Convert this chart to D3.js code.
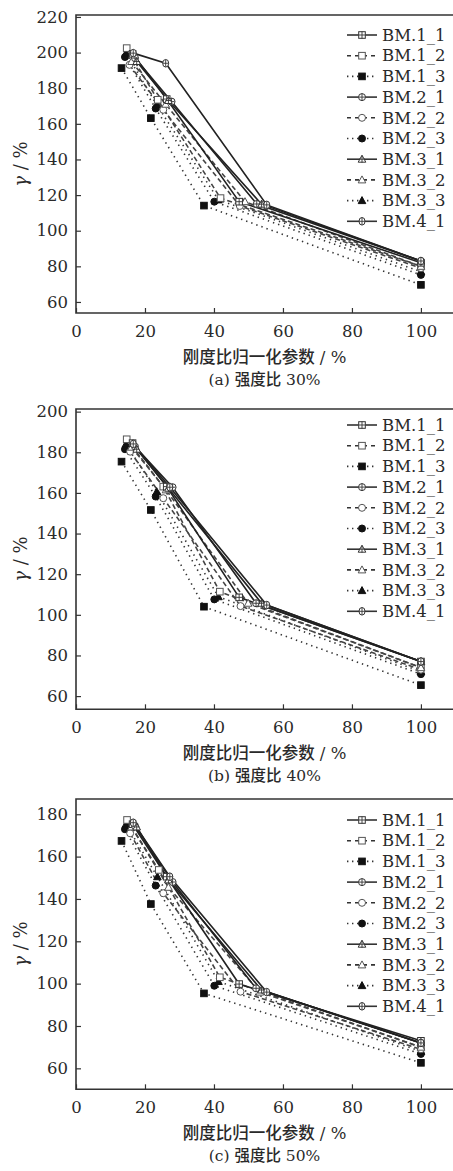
<!DOCTYPE html>
<html>
<head>
  <meta charset="utf8" />
  <style>
    body { margin: 0; background: #fff; }
    text { font-family: "DejaVu Serif", "Noto Sans CJK SC", serif; fill: #2a2a2a; }
  </style>
</head>
<body>
  <script src="https://d3js.org/d3.v7.min.js"></script>
  <script>
    var width = 453, height = 1171;

    // series names, in legend order
    var names = ["BM.1_1", "BM.1_2", "BM.1_3", "BM.2_1", "BM.2_2", "BM.2_3", "BM.3_1", "BM.3_2", "BM.3_3", "BM.4_1"];

    // panel (a) strength ratio 30%
    var xA = [[16.4, 26.3, 47.3, 100], [14.7, 23.7, 41.9, 100], [13.2, 21.7, 37.1, 100], [17.1, 27.7, 52.4, 100], [15.5, 25.3, 47.5, 100],
              [14.2, 23.1, 40.1, 100], [17.6, 26.8, 53.8, 100], [16.1, 26.0, 49.0, 100], [14.5, 23.4, 41.3, 100], [16.6, 26.0, 55.3, 100]];
    var yA = [[199.3, 173.9, 116.3, 82], [202.5, 173.5, 118.3, 80], [191.3, 163.2, 114.1, 69.6], [196.9, 172.5, 115, 83], [193.1, 167.9, 113.9, 79],
              [197.5, 168.6, 116.3, 75.2], [195, 173.1, 114.9, 83], [195, 171, 116.3, 80], [199.7, 170.7, 117.3, 77], [199.7, 194, 114.5, 83]];

    // panel (b) strength ratio 40%
    var xB = [[16.4, 26.3, 47.3, 100], [14.7, 25.3, 41.7, 100], [13.2, 21.7, 37.1, 100], [17.1, 28.0, 52.2, 100], [15.7, 25.3, 47.7, 100],
              [14.2, 23.1, 40.1, 100], [17.6, 26.8, 53.8, 100], [16.1, 26.1, 49.9, 100], [14.5, 23.4, 41.3, 100], [16.6, 27.2, 55.3, 100]];
    var yB = [[184.5, 163.1, 108.6, 77], [186.4, 163.1, 111.4, 74], [175.4, 151.6, 104, 65.4], [182.8, 162.8, 105.7, 77], [180.3, 157.4, 104.3, 73],
              [181.5, 158.2, 107.6, 70.8], [181.5, 162.3, 105.7, 77], [182.5, 161.5, 105.7, 74], [184.1, 160.6, 108.9, 72], [184.1, 162.8, 104.8, 77]];

    // panel (c) strength ratio 50%
    var xC = [[16.4, 26.3, 47.3, 100], [14.8, 24.0, 41.7, 100], [13.2, 21.7, 37.1, 100], [17.1, 28.0, 52.2, 100], [15.7, 25.3, 47.7, 100],
              [14.2, 23.1, 40.1, 100], [17.6, 26.8, 53.8, 100], [16.1, 26.8, 53.3, 100], [14.5, 23.6, 41.3, 100], [16.6, 27.2, 55.3, 100]];
    var yC = [[175.3, 150.5, 99.8, 73], [177.3, 153.7, 103, 70], [167.4, 137.6, 95.4, 62.6], [174.5, 148, 97.8, 72], [171, 142.7, 96.2, 69],
              [172.9, 146.3, 99, 66.8], [174, 149, 97, 72], [174, 145.5, 96, 70], [175.3, 150.5, 101, 68], [176, 150.5, 96, 72]];

    var xTicks = [0, 20, 40, 60, 80, 100];
    var yTicksA = [60, 80, 100, 120, 140, 160, 180, 200, 220];
    var yTicksB = [60, 80, 100, 120, 140, 160, 180, 200];
    var yTicksC = [60, 80, 100, 120, 140, 160, 180];
    var captionTags = ["(a)", "(b)", "(c)"];
    var captionValues = ["30%", "40%", "50%"];

    var svg = d3.select("body").append("svg").attr("width", width).attr("height", height);
    svg.append("rect").attr("width", width).attr("height", height).attr("fill", "#fff");

    // style per series: marker shape, filled, line kind
    function styleOf(i) {
      var n = names[i];
      var kind = n.slice(-1); // 1 solid, 2 dashed, 3 dotted
      var shape = n[3] === "1" ? "square" : n[3] === "2" ? "circle" : n[3] === "3" ? "triangle" : "oval";
      return { kind: kind, shape: shape };
    }

    function dash(kind) {
      return kind === "1" ? null : kind === "2" ? "5,3" : "1.4,4";
    }

    function drawMarker(g, x, y, st) {
      var filled = st.kind === "3";
      var fill = filled ? "#111" : "#fff";
      var stroke = st.kind === "1" ? "#333" : filled ? "#111" : "#555";
      var m;
      if (st.shape === "square") {
        m = g.append("rect").attr("x", x - 3.3).attr("y", y - 3.3).attr("width", 6.6).attr("height", 6.6);
      } else if (st.shape === "circle") {
        m = g.append("circle").attr("cx", x).attr("cy", y).attr("r", 3.5);
      } else if (st.shape === "triangle") {
        m = g.append("path").attr("d", "M" + x + "," + (y - 4) + "L" + (x + 3.8) + "," + (y + 3) + "L" + (x - 3.8) + "," + (y + 3) + "Z");
      } else {
        m = g.append("ellipse").attr("cx", x).attr("cy", y).attr("rx", 3).attr("ry", 3.8);
      }
      m.attr("fill", fill).attr("stroke", stroke).attr("stroke-width", 1);
      if (st.kind === "1") {
        g.append("line").attr("x1", x - 3).attr("x2", x + 3).attr("y1", y).attr("y2", y).attr("stroke", stroke).attr("stroke-width", 0.9);
        g.append("line").attr("x1", x).attr("x2", x).attr("y1", y - 3.5).attr("y2", y + 3.5).attr("stroke", stroke).attr("stroke-width", 0.9);
      }
    }

    function drawPanel(top, bottom, yDomain, yTicks, xs, ys, tag, value, legendTop) {
      var left = 76, right = 453;
      var x = d3.scaleLinear().domain([0, 109.3]).range([left, right]);
      var y = d3.scaleLinear().domain(yDomain).range([bottom, top]);
      var g = svg.append("g");

      // axes with inward ticks
      var xAxis = g.append("g").attr("transform", "translate(0," + bottom + ")")
        .call(d3.axisBottom(x).tickValues(xTicks).tickSizeInner(-5).tickSizeOuter(0).tickPadding(12));
      var yAxis = g.append("g").attr("transform", "translate(" + left + ",0)")
        .call(d3.axisLeft(y).tickValues(yTicks).tickSizeInner(-5).tickSizeOuter(0).tickPadding(8));
      [xAxis, yAxis].forEach(function (a) {
        a.select(".domain").remove();
        a.selectAll("line").attr("stroke", "#333").attr("stroke-width", 1.2);
        a.selectAll("text").attr("font-family", "DejaVu Serif").attr("font-size", 16.5).attr("fill", "#333");
      });
      xAxis.selectAll("text").attr("dy", "0.71em").attr("y", 12);

      // frame: left, bottom, top
      g.append("path")
        .attr("d", "M" + right + "," + top + "H" + left + "V" + bottom + "H" + right)
        .attr("fill", "none").attr("stroke", "#333").attr("stroke-width", 1.6);

      var line = d3.line().x(function (d) { return x(d[0]); }).y(function (d) { return y(d[1]); });

      // draw dotted first, then dashed, then solid on top
      var order = [2, 5, 8, 1, 4, 7, 0, 3, 6, 9];
      order.forEach(function (i) {
        var st = styleOf(i);
        var pts = xs[i].map(function (v, k) { return [v, ys[i][k]]; });
        g.append("path").attr("d", line(pts)).attr("fill", "none")
          .attr("stroke", st.kind === "1" ? "#222" : st.kind === "2" ? "#444" : "#333")
          .attr("stroke-width", 1.6)
          .attr("stroke-dasharray", dash(st.kind));
      });
      order.forEach(function (i) {
        var st = styleOf(i);
        xs[i].forEach(function (v, k) { drawMarker(g, x(v), y(ys[i][k]), st); });
      });

      // legend
      names.forEach(function (n, i) {
        var st = styleOf(i);
        var ly = legendTop + i * 20.7;
        g.append("line").attr("x1", 347).attr("x2", 377).attr("y1", ly).attr("y2", ly)
          .attr("stroke", "#333").attr("stroke-width", 1.6)
          .attr("stroke-dasharray", st.kind === "1" ? null : st.kind === "2" ? "4,4" : "1.4,3.6");
        drawMarker(g, 362, ly, st);
        g.append("text").attr("x", 382).attr("y", ly).attr("dy", "0.35em")
          .attr("font-size", 16.5).attr("fill", "#333").text(n);
      });

      // axis titles
      g.append("text")
        .attr("transform", "translate(21," + (top + bottom) / 2 + ") rotate(-90)")
        .attr("text-anchor", "middle").attr("dy", "0.35em").attr("font-size", 18)
        .html('<tspan font-style="italic">γ</tspan> / %');
      g.append("text").attr("x", (left + right) / 2).attr("y", bottom + 50)
        .attr("text-anchor", "middle").attr("font-size", 16.5)
        .html('<tspan font-family="Noto Sans CJK SC" font-weight="500">刚度比归一化参数</tspan> / %');
      g.append("text").attr("x", (left + right) / 2).attr("y", bottom + 72)
        .attr("text-anchor", "middle").attr("font-size", 15.5)
        .html(tag + ' <tspan font-family="Noto Sans CJK SC" font-weight="500">强度比</tspan> ' + value);
    }

    drawPanel(15, 313, [53.8, 221.1], yTicksA, xA, yA, captionTags[0], captionValues[0], 35);
    drawPanel(409, 709.3, [53.5, 201.3], yTicksB, xB, yB, captionTags[1], captionValues[1], 425);
    drawPanel(799, 1089.3, [50.1, 187.2], yTicksC, xC, yC, captionTags[2], captionValues[2], 820);
  </script>
</body>
</html>
